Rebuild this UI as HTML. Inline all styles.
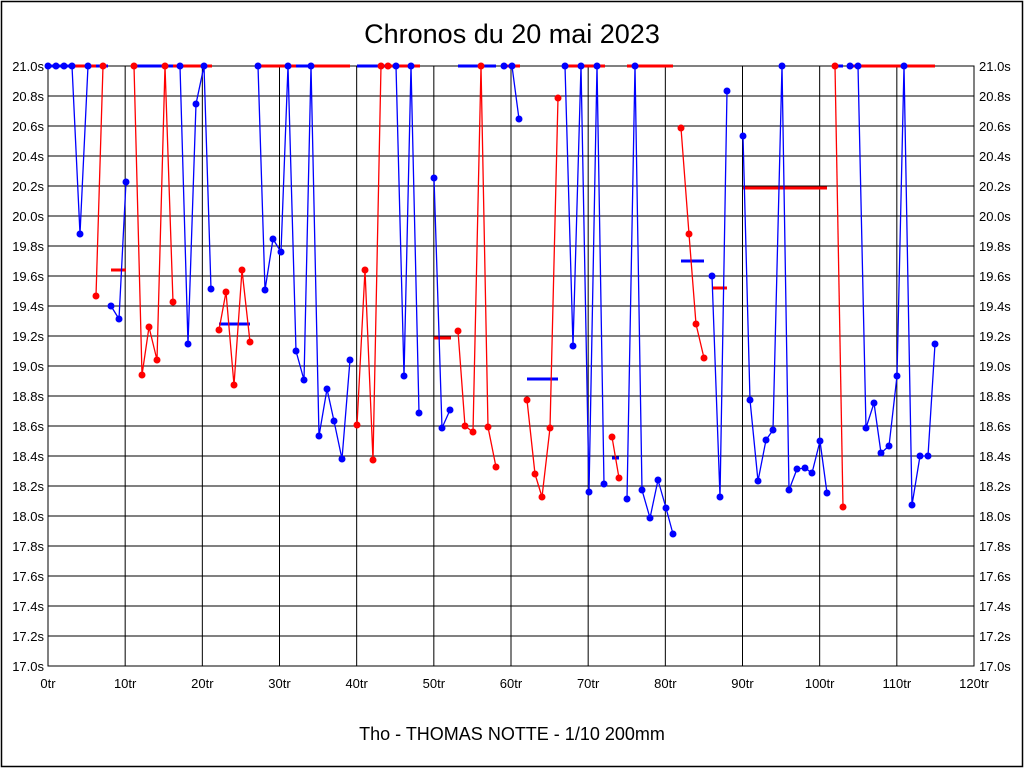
<!DOCTYPE html>
<html><head><meta charset="utf-8"><style>
html,body{margin:0;padding:0;background:#fff;}
svg{display:block;}
text{font-family:"Liberation Sans",sans-serif;}
</style></head><body>
<svg id="s" width="1024" height="768" xmlns="http://www.w3.org/2000/svg">
<rect x="1.5" y="1.5" width="1021" height="765" fill="#fff" stroke="#000" stroke-width="1.5"/>
<text x="512" y="43" font-size="27" text-anchor="middle">Chronos du 20 mai 2023</text>
<text x="512" y="740" font-size="18" text-anchor="middle">Tho - THOMAS NOTTE - 1/10 200mm</text>
<g id="g"></g>
</svg>
<script>
var NS="http://www.w3.org/2000/svg",g=document.getElementById('g');
function el(t,a,txt){var e=document.createElementNS(NS,t);for(var k in a)e.setAttribute(k,a[k]);if(txt!==undefined)e.textContent=txt;g.appendChild(e);return e;}
var L=48,R=974,T=66,B=666;
for(var i=0;i<=20;i++){var y=T+i*30;el('line',{x1:L,x2:R,y1:y,y2:y,stroke:'#000','stroke-width':1});
var v=(21-i*0.2).toFixed(1)+'s';el('text',{x:44,y:y+5,'font-size':13,'text-anchor':'end'},v);el('text',{x:979,y:y+5,'font-size':13},v);}
for(var i=0;i<=12;i++){var x=L+i*(R-L)/12;el('line',{x1:x,x2:x,y1:T,y2:B,stroke:'#000','stroke-width':1});
el('text',{x:x,y:688,'font-size':13,'text-anchor':'middle'},(i*10)+'tr');}
el('rect',{x:L,y:T,width:R-L,height:B-T,fill:'none',stroke:'#000','stroke-width':1});
var RED='#f00',BLUE='#00f';
function hb(x1,x2,y,c){el('line',{x1:x1,x2:x2,y1:y,y2:y,stroke:c,'stroke-width':3});}
function pl(pts,c,dots){el('polyline',{points:pts.map(function(p){return p.join(',')}).join(' '),fill:'none',stroke:c,'stroke-width':1.3});
(dots||pts).forEach(function(p){el('circle',{cx:p[0],cy:p[1],r:3.5,fill:c});});}
// horizontals
hb(48,96,66,BLUE);hb(72,103,66,RED);hb(96,108,66,BLUE);hb(111,126,270,RED);
hb(134,173,66,BLUE);hb(173,212,66,RED);hb(219,250,324,BLUE);
hb(258,350,66,RED);hb(296,311,66,BLUE);hb(357,388,66,BLUE);hb(388,420,66,RED);
hb(434,451,338,RED);hb(458,496,66,BLUE);hb(504,520,66,RED);hb(527,558,379,BLUE);
hb(565,605,66,RED);hb(612,619,458,BLUE);hb(627,673,66,RED);
hb(681,704,261,BLUE);hb(712,727,288,RED);hb(743,827,188,RED);hb(835,843,66,BLUE);hb(850,935,66,RED);
// series
pl([[48,66],[56,66],[64,66]],BLUE);
pl([[72,66],[80,234],[88,66]],BLUE);
pl([[96,296],[103,66]],RED);
pl([[111,306],[119,319],[126,182]],BLUE);
pl([[134,66],[142,375],[149,327],[157,360],[165,66],[173,302]],RED);
pl([[180,66],[188,344],[196,104],[204,66],[211,289]],BLUE);
pl([[219,330],[226,292],[234,385],[242,270],[250,342]],RED);
pl([[258,66],[265,290],[273,239],[281,252],[288,66],[296,351],[304,380],[311,66],[319,436],[327,389],[334,421],[342,459],[350,360]],BLUE);
pl([[357,425],[365,270],[373,460],[381,66]],RED,[[357,425],[365,270],[373,460],[381,66],[388,66]]);
pl([[396,66],[404,376],[411,66],[419,413]],BLUE);
pl([[434,178],[442,428],[450,410]],BLUE);
pl([[458,331],[465,426],[473,432],[481,66],[488,427],[496,467]],RED);
pl([[504,66],[512,66],[519,119]],BLUE);
pl([[527,400],[535,474],[542,497],[550,428],[558,98]],RED);
pl([[565,66],[573,346],[581,66],[589,492],[597,66],[604,484]],BLUE);
pl([[612,437],[619,478]],RED);
pl([[627,499],[635,66],[642,490],[650,518],[658,480],[666,508],[673,534]],BLUE);
pl([[681,128],[689,234],[696,324],[704,358]],RED);
pl([[712,276],[720,497],[727,91]],BLUE);
pl([[743,136],[750,400],[758,481],[766,440],[773,430],[782,66],[789,490],[797,469],[805,468],[812,473],[820,441],[827,493]],BLUE);
pl([[835,66],[843,507]],RED);
pl([[850,66],[858,66],[866,428],[874,403],[881,453],[889,446],[897,376],[904,66],[912,505],[920,456],[928,456],[935,344]],BLUE);
</script>
</body></html>
